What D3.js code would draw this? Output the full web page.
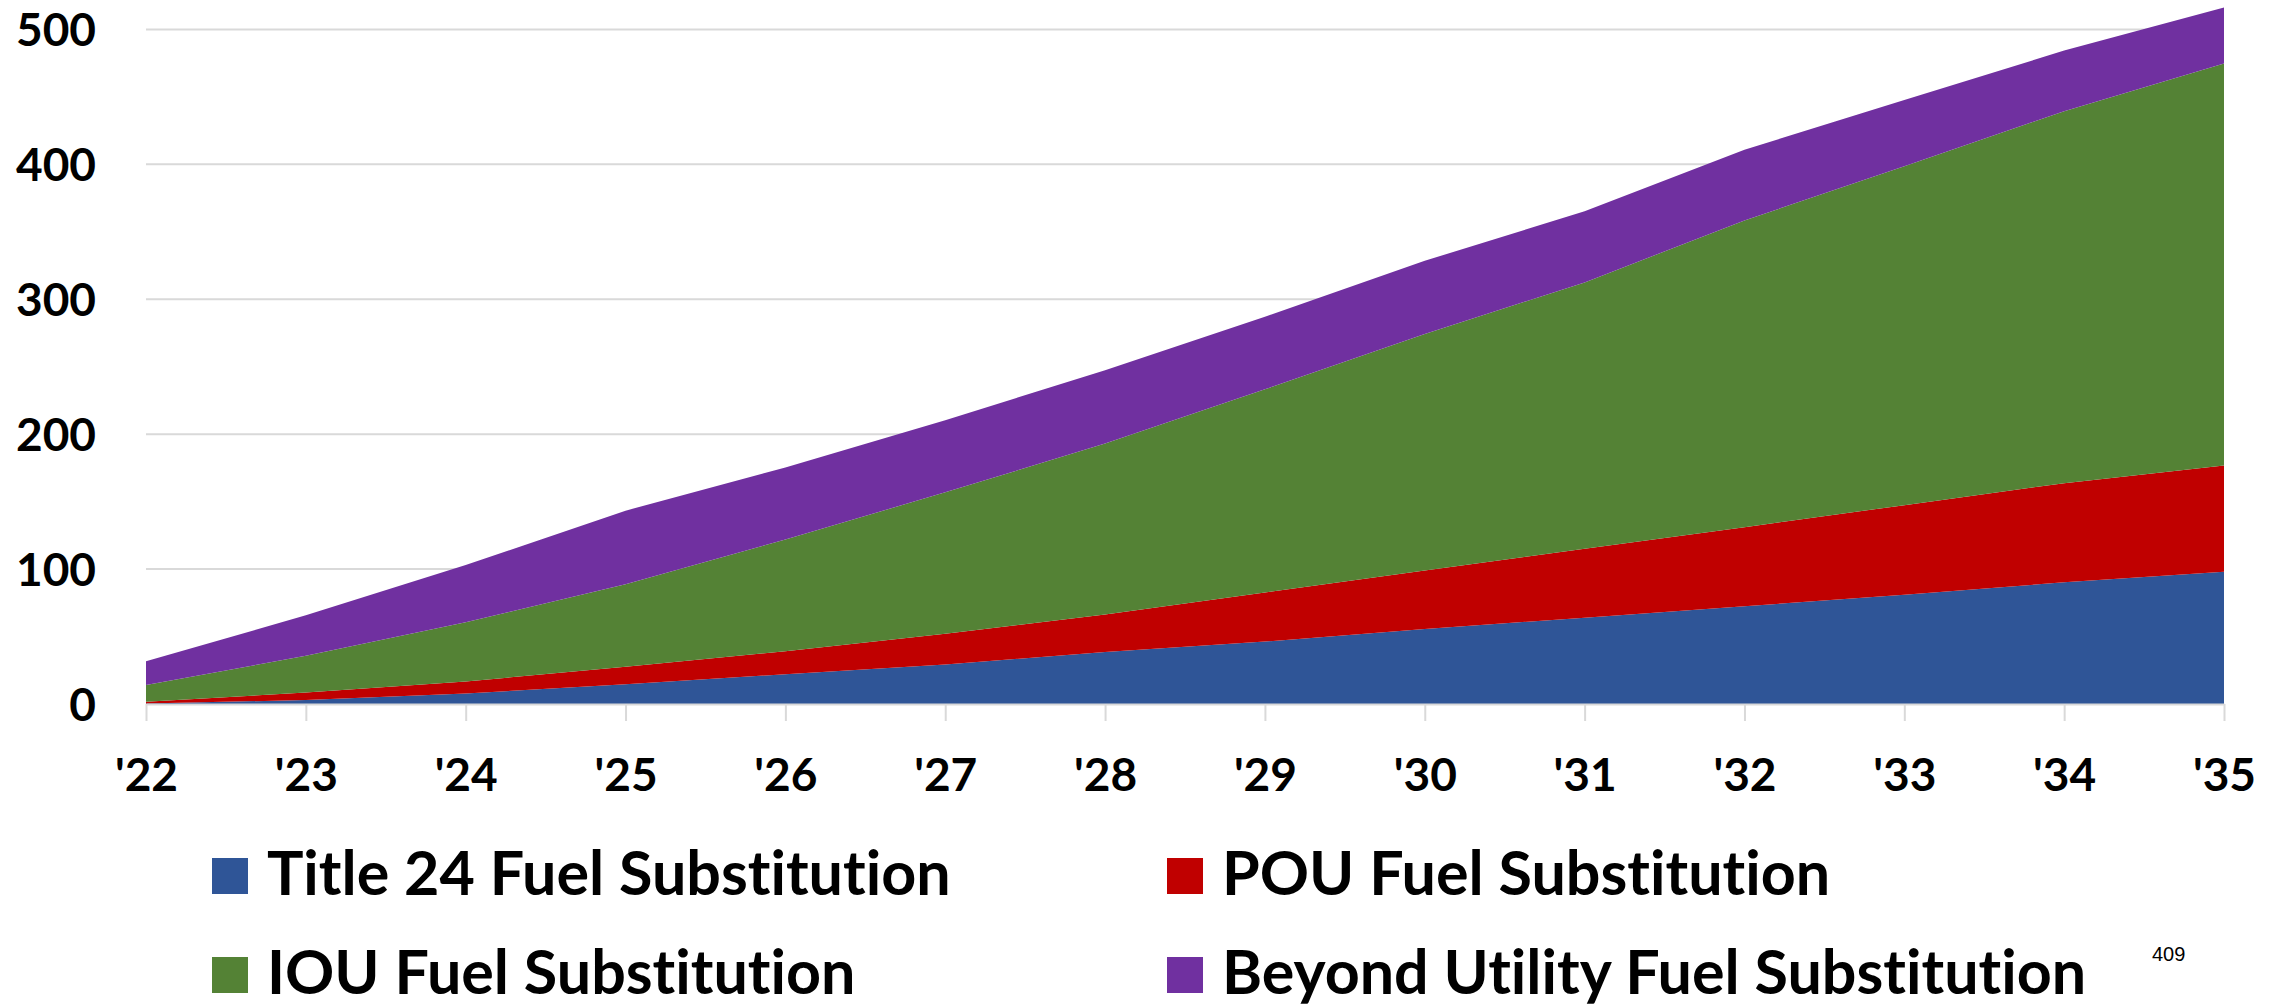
<!DOCTYPE html>
<html>
<head>
<meta charset="utf-8">
<script src="https://cdn.jsdelivr.net/npm/d3@7"></script>
<style>
  html, body { margin: 0; padding: 0; background: #ffffff; }
  svg { display: block; }
  .tick-label { font-family: Lato, "Open Sans", sans-serif; font-weight: 700; fill: #000; font-variant-ligatures: none; }
</style>
</head>
<body>
<svg id="chart" width="2292" height="1006"></svg>
<script>
// Years along the horizontal axis
const years = ["'22", "'23", "'24", "'25", "'26", "'27", "'28", "'29", "'30", "'31", "'32", "'33", "'34", "'35"];

// Annual values per program, stacked bottom to top
const title24 = [0.3, 3, 7.8, 14.6, 22.1, 29.3, 38.5, 46.3, 55.5, 64, 72.5, 81, 90.2, 98];
const pou     = [1.4, 5.5, 8.9, 13, 17, 22.8, 27.9, 36.4, 43.5, 51, 58.5, 66.4, 73.5, 78.7];
const iou     = [12.3, 27.2, 43.9, 61.2, 82.8, 104.8, 126.6, 150.5, 175.3, 197.5, 227.4, 251.2, 275.7, 298.1];
const beyond  = [17.7, 30, 42.4, 54.5, 53.4, 53.4, 54.4, 53.8, 54.2, 52.7, 52.4, 49, 44.9, 41.5];

const seriesNames = ["Title 24 Fuel Substitution", "POU Fuel Substitution", "IOU Fuel Substitution", "Beyond Utility Fuel Substitution"];
const seriesColors = ["#2F5597", "#C00000", "#548235", "#7030A0"];
const yTicks = [0, 100, 200, 300, 400, 500];
const pageNumber = "409";

const svg = d3.select("#chart");

const plot = { left: 146, right: 2224, top: 29.4, bottom: 704 };

const x = d3.scalePoint().domain(years).range([plot.left, plot.right]);
const y = d3.scaleLinear().domain([0, 500]).range([plot.bottom, plot.top]);

// Build rows for the stack layout
const keys = ["title24", "pou", "iou", "beyond"];
const rows = years.map((yr, i) => ({
  year: yr, title24: title24[i], pou: pou[i], iou: iou[i], beyond: beyond[i]
}));
const stacked = d3.stack().keys(keys)(rows);

// Horizontal gridlines
svg.append("g")
  .selectAll("line")
  .data(yTicks)
  .join("line")
  .attr("x1", plot.left).attr("x2", plot.right)
  .attr("y1", d => y(d)).attr("y2", d => y(d))
  .attr("stroke", "#d9d9d9").attr("stroke-width", 2);

// Stacked areas
const area = d3.area()
  .x(d => x(d.data.year))
  .y0(d => y(d[0]))
  .y1(d => y(d[1]));

svg.append("g")
  .selectAll("path")
  .data(stacked)
  .join("path")
  .attr("d", area)
  .attr("fill", (d, i) => seriesColors[i]);

// X axis: baseline, tick marks and year labels
const xAxis = svg.append("g")
  .attr("transform", `translate(0,${plot.bottom})`)
  .call(d3.axisBottom(x).tickSizeInner(17).tickSizeOuter(0));
xAxis.select(".domain").attr("stroke", "#d9d9d9").attr("stroke-width", 2);
xAxis.selectAll(".tick line").attr("stroke", "#d9d9d9").attr("stroke-width", 2);
xAxis.selectAll(".tick text")
  .attr("class", "tick-label")
  .attr("font-size", 46)
  .attr("y", 87)
  .attr("dy", null);

// Y axis labels
const yAxis = svg.append("g")
  .attr("transform", `translate(${plot.left},0)`)
  .call(d3.axisLeft(y).tickValues(yTicks).tickSize(0).tickPadding(50));
yAxis.select(".domain").remove();
yAxis.selectAll(".tick text")
  .attr("class", "tick-label")
  .attr("font-size", 46)
  .attr("dy", "0.36em");

// Legend, two columns by two rows
const legendPos = [
  { sx: 212, sy: 858 },
  { sx: 1167, sy: 858 },
  { sx: 212, sy: 957 },
  { sx: 1167, sy: 957 }
];
const legend = svg.append("g");
seriesNames.forEach((name, i) => {
  const p = legendPos[i];
  legend.append("rect")
    .attr("x", p.sx).attr("y", p.sy)
    .attr("width", 36).attr("height", 36)
    .attr("fill", seriesColors[i]);
  legend.append("text")
    .attr("class", "tick-label")
    .attr("x", p.sx + 55).attr("y", p.sy + 37)
    .attr("font-size", 61)
    .text(name);
});

// Page number
svg.append("text")
  .attr("x", 2152).attr("y", 961)
  .attr("font-family", "Liberation Sans, Arial, sans-serif")
  .attr("font-size", 20)
  .attr("fill", "#000")
  .text(pageNumber);
</script>
</body>
</html>
